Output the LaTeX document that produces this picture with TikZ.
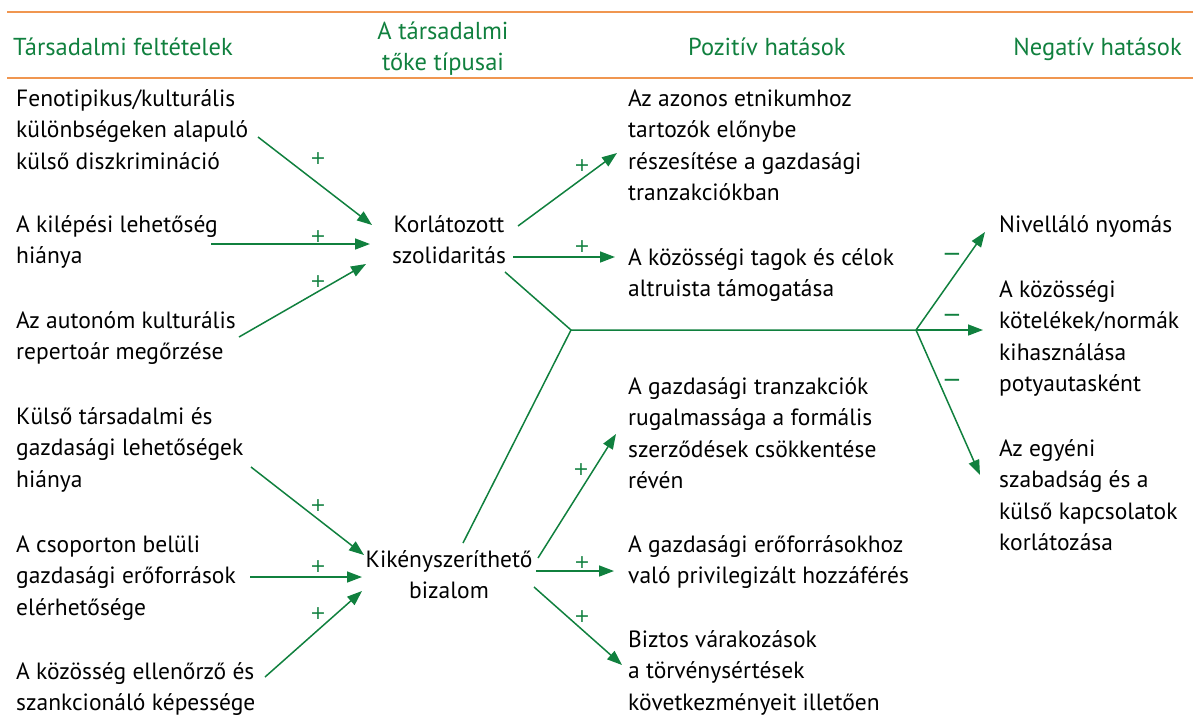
\documentclass[tikz,border=0pt]{standalone}
\usepackage{fontspec}
\setmainfont{PT Sans}
\newfontfamily\signfont{DejaVu Sans}
\usetikzlibrary{arrows.meta}
\definecolor{grn}{RGB}{16,128,62}
\definecolor{org}{RGB}{240,150,80}
\begin{document}
\begin{tikzpicture}[x=1pt,y=-1pt,
  txt/.style={font=\fontsize{23.5}{31.5}\selectfont, inner sep=0pt, align=left, anchor=base west},
  ctr/.style={font=\fontsize{23.5}{31.5}\selectfont, inner sep=0pt, align=center, anchor=base},
  hdr/.style={font=\fontsize{24.5}{31}\selectfont, inner sep=0pt, text=grn},
  arr/.style={draw=grn, line width=1.5pt, -{Triangle[length=15pt,width=11pt]}},
  ln/.style={draw=grn, line width=1.5pt},
  sgn/.style={font=\signfont\fontsize{19}{19}\selectfont, text=grn, inner sep=0pt},
  msgn/.style={font=\signfont\fontsize{23}{23}\selectfont, text=grn, inner sep=0pt},
  rule/.style={draw=org, line width=2pt}]
\useasboundingbox (0,0) rectangle (1193,716);
% header rules
\coordinate (r1a) at (7,12); \coordinate (r1b) at (1193,12);
\coordinate (r2a) at (7,78); \coordinate (r2b) at (1193,78);
\draw[rule] (r1a) -- (r1b);
\draw[rule] (r2a) -- (r2b);
% headers (base = last line baseline)
\node[hdr, anchor=base west] (h1) at (13,55) {Társadalmi feltételek};
\node[hdr, align=center, anchor=base] (h2) at (443,70) {A társadalmi\\tőke típusai};
\node[hdr, anchor=base west] (h3) at (688,55) {Pozitív hatások};
\node[hdr, anchor=base east] (h4) at (1182,55) {Negatív hatások};
% left column
\node[txt] (c1) at (16,169) {Fenotipikus/kulturális\\különbségeken alapuló\\külső diszkrimináció};
\node[txt] (c2) at (16,263.5) {A kilépési lehetőség\\hiánya};
\node[txt] (c3) at (16,359.5) {Az autonóm kulturális\\repertoár megőrzése};
\node[txt] (c4) at (16,487) {Külső társadalmi és\\gazdasági lehetőségek\\hiánya};
\node[txt] (c5) at (16,615) {A csoporton belüli\\gazdasági erőforrások\\elérhetősége};
\node[txt] (c6) at (16,710.5) {A közösség ellenőrző és\\szankcionáló képessége};
% centre
\node[ctr] (ks) at (449,263.5) {Korlátozott\\szolidaritás};
\node[ctr] (kb) at (449,598.5) {Kikényszeríthető\\bizalom};
% positive
\node[txt] (p1) at (628,200.5) {Az azonos etnikumhoz\\tartozók előnybe\\részesítése a gazdasági\\tranzakciókban};
\node[txt] (p2) at (628,296.5) {A közösségi tagok és célok\\altruista támogatása};
\node[txt] (p3) at (628,488.5) {A gazdasági tranzakciók\\rugalmassága a formális\\szerződések csökkentése\\révén};
\node[txt] (p4) at (628,583.5) {A gazdasági erőforrásokhoz\\való privilegizált hozzáférés};
\node[txt] (p5) at (628,710) {Biztos várakozások\\a törvénysértések\\következményeit illetően};
% negative
\node[txt] (n1) at (999,232) {Nivelláló nyomás};
\node[txt] (n2) at (999,391.5) {A közösségi\\kötelékek/normák\\kihasználása\\potyautasként};
\node[txt] (n3) at (999,550.5) {Az egyéni\\szabadság és a\\külső kapcsolatok\\korlátozása};
% connector points
\coordinate (a1s) at (258,137); \coordinate (a1e) at (372,225);
\coordinate (a2s) at (211,244); \coordinate (a2e) at (370,244);
\coordinate (a3s) at (239,337); \coordinate (a3e) at (366,264);
\coordinate (b1s) at (251,467); \coordinate (b1e) at (364,555);
\coordinate (b2s) at (250,577); \coordinate (b2e) at (362,577);
\coordinate (b3s) at (265,677); \coordinate (b3e) at (362,591);
\coordinate (k1s) at (518,226); \coordinate (k1e) at (617,153);
\coordinate (k2s) at (513,257); \coordinate (k2e) at (615,257);
\coordinate (k3s) at (505,272);
\coordinate (j1) at (571,330); \coordinate (j2) at (916,330);
\coordinate (t0s) at (463,543);
\coordinate (t1s) at (538,558); \coordinate (t1e) at (616,434);
\coordinate (t2s) at (536,571); \coordinate (t2e) at (614,571);
\coordinate (t3s) at (534,587); \coordinate (t3e) at (622,665);
\coordinate (e1) at (985,232); \coordinate (e2) at (983,330); \coordinate (e3) at (980,475);
% arrows
\draw[arr] (a1s) -- (a1e);
\draw[arr] (a2s) -- (a2e);
\draw[arr] (a3s) -- (a3e);
\draw[arr] (b1s) -- (b1e);
\draw[arr] (b2s) -- (b2e);
\draw[arr] (b3s) -- (b3e);
\draw[arr] (k1s) -- (k1e);
\draw[arr] (k2s) -- (k2e);
\draw[ln] (k3s) -- (j1) -- (j2);
\draw[ln] (t0s) -- (j1);
\draw[arr] (t1s) -- (t1e);
\draw[arr] (t2s) -- (t2e);
\draw[arr] (t3s) -- (t3e);
\draw[arr] (j2) -- (e1);
\draw[arr] (j2) -- (e2);
\draw[arr] (j2) -- (e3);
% signs
\node[sgn] (s1) at (318,159) {+};
\node[sgn] (s2) at (318,237) {+};
\node[sgn] (s3) at (318,282) {+};
\node[sgn] (s4) at (318,506) {+};
\node[sgn] (s5) at (318,567) {+};
\node[sgn] (s6) at (318,614) {+};
\node[sgn] (s7) at (582,166) {+};
\node[sgn] (s8) at (582,247) {+};
\node[sgn] (s9) at (581,470) {+};
\node[sgn] (s10) at (582,563) {+};
\node[sgn] (s11) at (582,617) {+};
\node[msgn] (m1) at (952,257) {−};
\node[msgn] (m2) at (952,318) {−};
\node[msgn] (m3) at (952,383) {−};
\end{tikzpicture}
\end{document}
